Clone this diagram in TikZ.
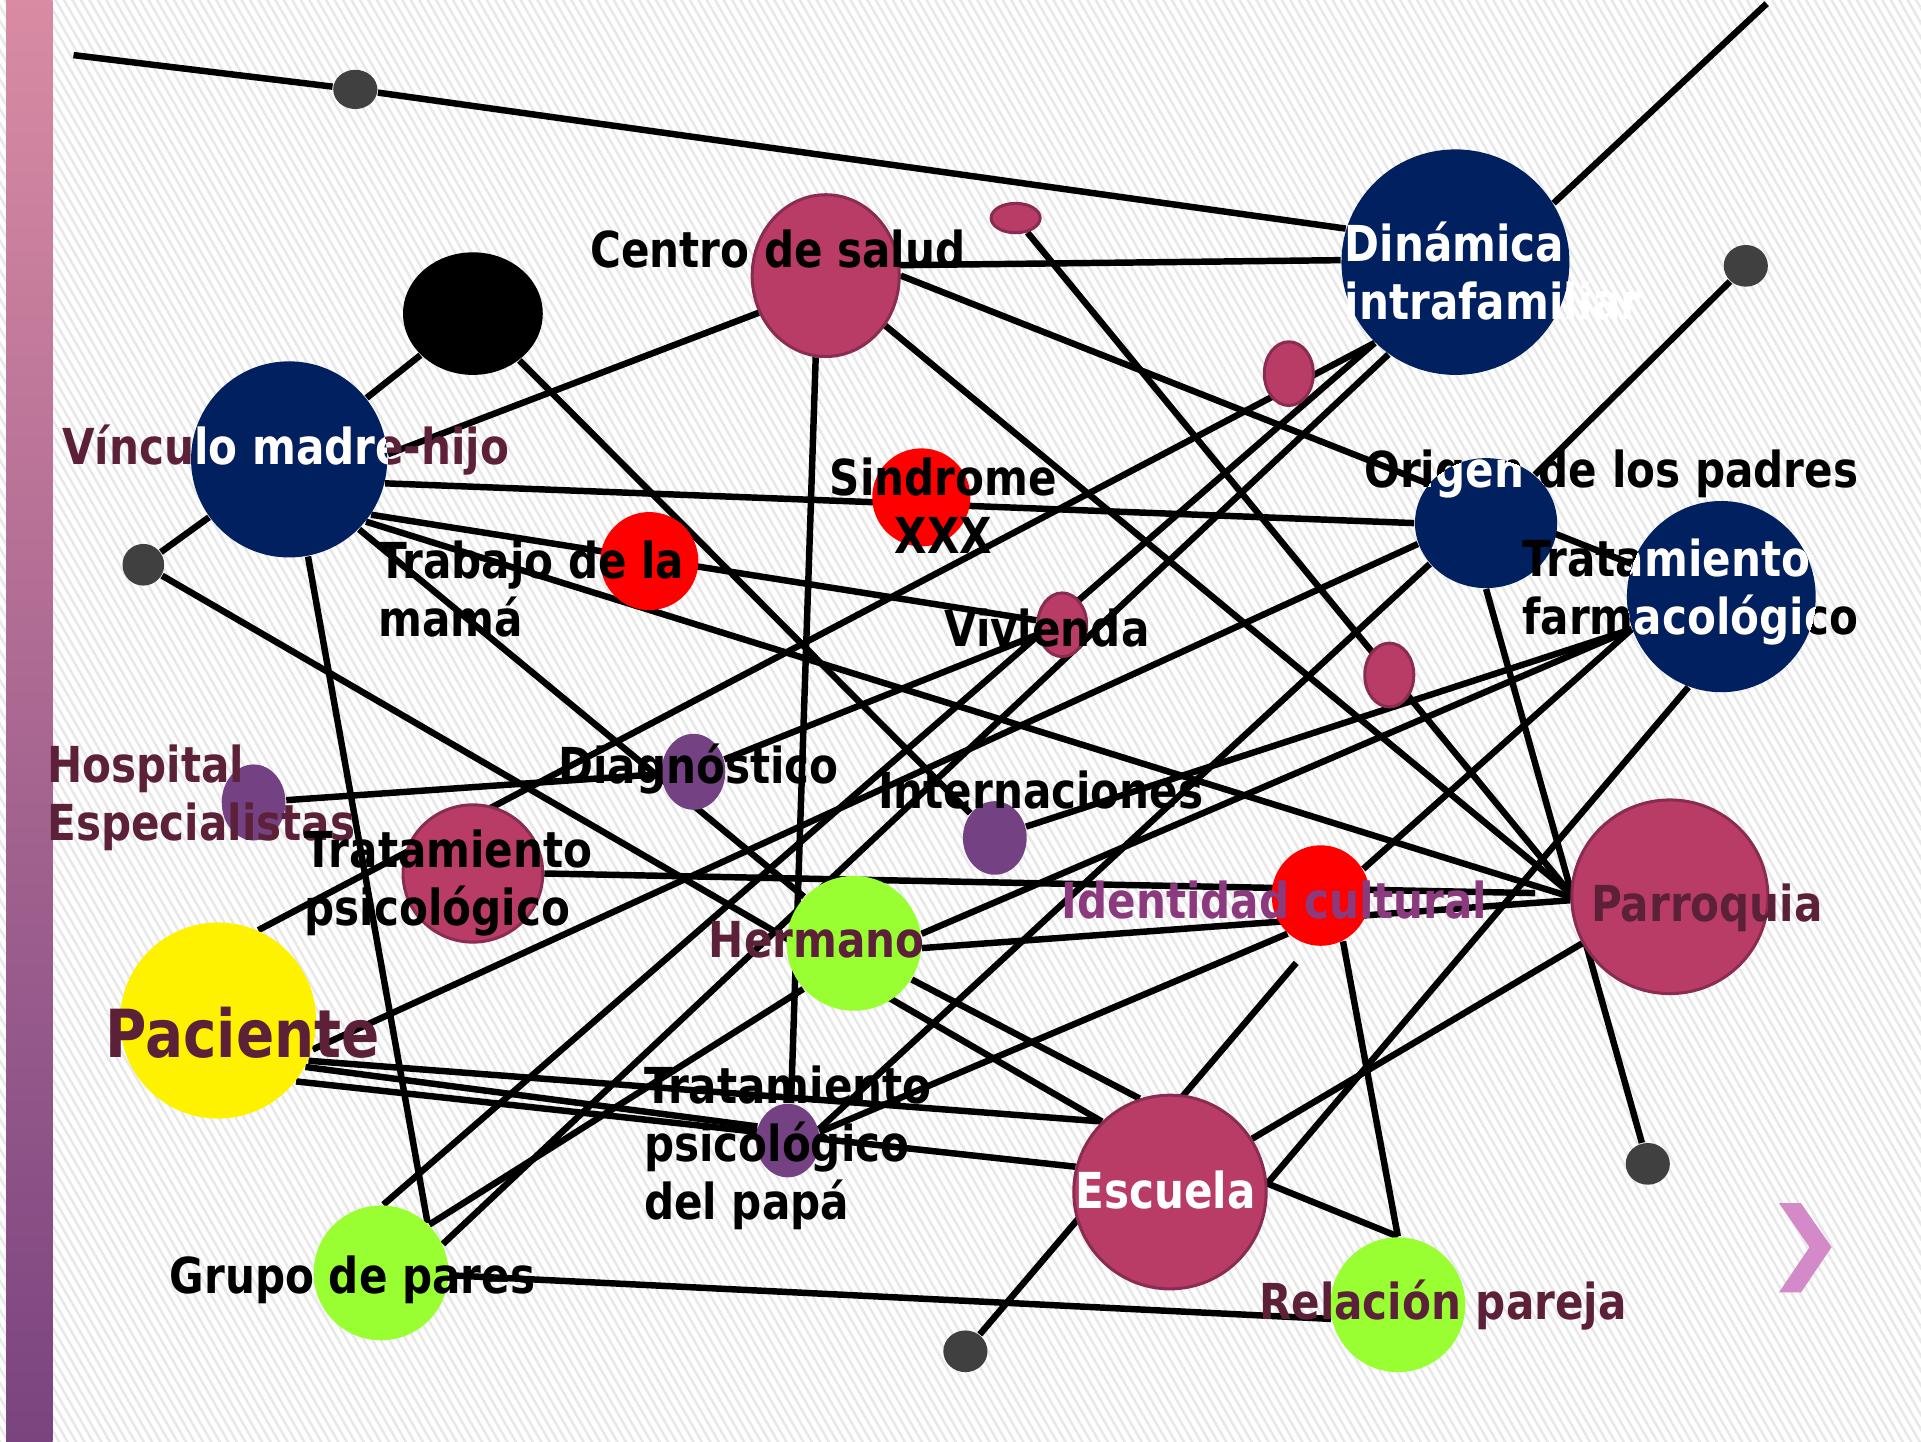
\documentclass[tikz,border=0pt]{standalone}
\usepackage{fontspec}
\newfontfamily\lblfont{DejaVu Sans}[FakeStretch=0.85]
\usetikzlibrary{shapes.geometric,patterns.meta}
\definecolor{navy}{HTML}{002060}
\definecolor{rosa}{HTML}{B83C66}
\definecolor{rosaborde}{HTML}{8A2C52}
\definecolor{verde}{HTML}{99FF33}
\definecolor{lila}{HTML}{744283}
\definecolor{gris}{HTML}{404040}
\definecolor{granate}{HTML}{5C2139}
\definecolor{morado}{HTML}{8C3A7E}
\definecolor{flecha}{HTML}{D48AC8}
\definecolor{barTop}{HTML}{D98BA3}
\definecolor{barMid}{HTML}{B83C66}
\definecolor{barBot}{HTML}{7A4480}
\pgfdeclarelayer{back}
\pgfdeclarelayer{edges}
\pgfsetlayers{back,edges,main}

\begin{document}
\begin{tikzpicture}[x=0.01cm, y=-0.01cm,
  nd/.style={ellipse, inner sep=0pt},
  sz/.style 2 args={minimum width=#1, minimum height=#2},
  rosanode/.style={nd, fill=rosa, draw=rosaborde, line width=0.7pt},
  lbl/.style={inner sep=0pt, align=left, font=\lblfont\bfseries\fontsize{11.5}{13.4}\selectfont},
  lblbig/.style={inner sep=0pt, font=\lblfont\bfseries\fontsize{15.4}{18}\selectfont},
  link/.style={line width=1.5pt, black}]
\useasboundingbox (0,0) rectangle (1568,1177);

% fondo rayado y barra lateral
\begin{pgfonlayer}{back}
\fill[white] (0,0) rectangle (1568,1177);
\fill[pattern={Lines[angle=-60,distance=1.7pt,line width=0.6pt]}, pattern color=black!9] (0,0) rectangle (1568,1177);
\shade[top color=barTop, middle color=barMid, bottom color=barBot] (5,0) rectangle (43,1177);
\end{pgfonlayer}

% puntos grises
\node[nd, fill=gris, sz={0.36cm}{0.32cm}] (gA) at (290,73) {};
\node[nd, fill=gris, sz={0.36cm}{0.34cm}] (gB) at (1425,217) {};
\node[nd, fill=gris, sz={0.34cm}{0.34cm}] (gC) at (117,461) {};
\node[nd, fill=gris, sz={0.36cm}{0.34cm}] (gD) at (1345,950) {};
\node[nd, fill=gris, sz={0.36cm}{0.34cm}] (gE) at (788,1103) {};

% nodos
\node[nd, fill=black, sz={1.14cm}{1.00cm}] (negro) at (386,256) {};
\node[nd, fill=navy, sz={1.60cm}{1.60cm}] (vin) at (236,375) {};
\node[rosanode, sz={1.20cm}{1.32cm}] (cen) at (674,225) {};
\node[nd, fill=navy, sz={1.86cm}{1.84cm}] (din) at (1188,214) {};
\node[rosanode, sz={0.40cm}{0.24cm}] (elA) at (829,178) {};
\node[rosanode, sz={0.40cm}{0.52cm}] (elB) at (1052,305) {};
\node[rosanode, sz={0.40cm}{0.52cm}] (elC) at (867,510) {};
\node[rosanode, sz={0.40cm}{0.52cm}] (elD) at (1134,551) {};
\node[nd, fill=red, sz={0.80cm}{0.80cm}] (sin) at (752,406) {};
\node[nd, fill=red, sz={0.80cm}{0.80cm}] (tra) at (530,458) {};
\node[nd, fill=navy, sz={1.16cm}{1.06cm}] (ori) at (1213,427) {};
\node[nd, fill=navy, sz={1.54cm}{1.56cm}] (far) at (1405,487) {};
\node[nd, fill=lila, sz={0.52cm}{0.62cm}] (hos) at (207,655) {};
\node[nd, fill=lila, sz={0.52cm}{0.62cm}] (dia) at (566,630) {};
\node[nd, fill=lila, sz={0.52cm}{0.60cm}] (int) at (812,684) {};
\node[rosanode, sz={1.14cm}{1.12cm}] (tps) at (386,713) {};
\node[nd, fill=yellow, sz={1.60cm}{1.60cm}] (pac) at (178,833) {};
\node[nd, fill=verde, sz={1.10cm}{1.10cm}] (her) at (697,770) {};
\node[nd, fill=red, sz={0.80cm}{0.82cm}] (ide) at (1078,731) {};
\node[rosanode, sz={1.60cm}{1.58cm}] (par) at (1363,732) {};
\node[nd, fill=lila, sz={0.52cm}{0.60cm}] (pap) at (643,931) {};
\node[rosanode, sz={1.57cm}{1.58cm}] (esc) at (955,973) {};
\node[nd, fill=verde, sz={1.10cm}{1.10cm}] (gru) at (311,1039) {};
\node[nd, fill=verde, sz={1.10cm}{1.10cm}] (rel) at (1141,1065) {};

\coordinate (tl) at (60,45);
\coordinate (tr) at (1442,3);
\coordinate (tpEnd) at (1253,729);
\coordinate (esEnd) at (1058,786);

% conexiones
\begin{pgfonlayer}{edges}
\draw[link] (tl) -- (gA);
\draw[link] (gA) -- (din.163);
\draw[link] (din.31) -- (tr);
\draw[link] (cen.8) -- (din.179);
\draw[link] (vin) -- (negro);
\draw[link] (negro) -- (int);
\draw[link] (vin.3) -- (cen.209);
\draw[link] (vin.-14) -- (ori.180);
\draw[link] (vin.-34) -- (elC.170);
\draw[link] (vin.-39) -- (par.180);
\draw[link] (vin.-45) -- (her.137);
\draw[link] (vin.-79) -- (gru.47);
\draw[link] (vin) -- (gC);
\draw[link] (gC) -- (esc.134);
\draw[link] (her.-32) -- (esc.108);
\draw[link] (pac.-24) -- (esc.134);
\draw[link] (pac.-28) -- (pap.155);
\draw[link] (pac.-38) -- (esc.165);
\draw[link] (pac.66) -- (din.225);
\draw[link] (pac.-17) -- (ori.197);
\draw[link] (cen.0) -- (far.160);
\draw[link] (cen.-40) -- (par.178);
\draw[link] (cen.-97) -- (pap.85);
\draw[link] (elA) -- (par.178);
\draw[link] (gB) -- (ori);
\draw[link] (ori.-90) -- (gD);
\draw[link] (pap.20) -- (ori.216);
\draw[link] (pap.15) -- (ide.229);
\draw[link] (int.20) -- (far.200);
\draw[link] (her.8) -- (far.200);
\draw[link] (ide.32) -- (far.200);
\draw[link] (far.-110) -- (esc.5);
\draw[link] (esc.33) -- (par.208);
\draw[link] (esc.5) -- (rel.90);
\draw[link] (ide.-64) -- (rel.90);
\draw[link] (gru.-2) -- (rel.192);
\draw[link] (gru.88) -- (din.225);
\draw[link] (gru.45) -- (her.222);
\draw[link] (gru.25) -- (din.234);
\draw[link] (hos) -- (dia);
\draw[link] (dia) -- (elC);
\draw[link] (tps.0) -- (tpEnd);
\draw[link] (gE) -- (esEnd);
\draw[link] (her.-4) -- (par.182);
\end{pgfonlayer}

% textos
\node[lbl, anchor=west] (lcen) at (481,203) {Centro de salud};
\node[lbl, white, anchor=west] (ldin) at (1097,221) {Dinámica\\intrafamiliar};
\node[lbl, granate, anchor=west] (lvin) at (50,367) {Vínculo madre-hijo};
\node[lbl, align=center] (lsin) at (770,413) {Sindrome\\XXX};
\node[lbl, anchor=west] (ltra) at (308,481) {Trabajo de la\\mamá};
\node[lbl, anchor=west] (lori) at (1113,387) {Origen de los padres};
\node[lbl, anchor=west] (lfar) at (1242,483) {Tratamiento\\farmacológico};
\node[lbl, anchor=west] (lviv) at (770,513) {Vivienda};
\node[lbl, granate, anchor=west] (lhos) at (38,651) {Hospital\\Especialistas};
\node[lbl, anchor=west] (ldia) at (455,628) {Diagnóstico};
\node[lbl, anchor=west] (lint) at (716,645) {Internaciones};
\node[lbl, anchor=west] (ltps) at (248,721) {Tratamiento\\psicológico};
\node[lblbig, granate] (lpac) at (198,843) {Paciente};
\node[lbl, granate, anchor=west] (lher) at (578,767) {Hermano};
\node[lbl, morado, anchor=west] (lide) at (866,735) {Identidad cultural};
\node[lbl, granate, anchor=west] (lpar) at (1298,741) {Parroquia};
\node[lbl, anchor=west] (lpap) at (525,937) {Tratamiento\\psicológico\\del papá};
\node[lbl, white, anchor=west] (lesc) at (877,971) {Escuela};
\node[lbl, anchor=west] (lgru) at (138,1045) {Grupo de pares};
\node[lbl, granate, anchor=west] (lrel) at (1027,1065) {Relación pareja};

% parte blanca del texto dentro de los circulos azules
\begin{scope}
\clip (236,375) ellipse [x radius=0.80cm, y radius=0.80cm];
\node[lbl, white, anchor=west] (lvinw) at (50,367) {Vínculo madre-hijo};
\end{scope}
\begin{scope}
\clip (1213,427) ellipse [x radius=0.58cm, y radius=0.53cm];
\node[lbl, white, anchor=west] (loriw) at (1113,387) {Origen de los padres};
\end{scope}
\begin{scope}
\clip (1405,487) ellipse [x radius=0.77cm, y radius=0.78cm];
\node[lbl, white, anchor=west] (lfarw) at (1242,483) {Tratamiento\\farmacológico};
\end{scope}

% flecha de la diapositiva
\fill[flecha] (1452,982) -- (1470,982) -- (1495,1018) -- (1470,1055) -- (1452,1055) -- (1477,1018) -- cycle;
\end{tikzpicture}
\end{document}
